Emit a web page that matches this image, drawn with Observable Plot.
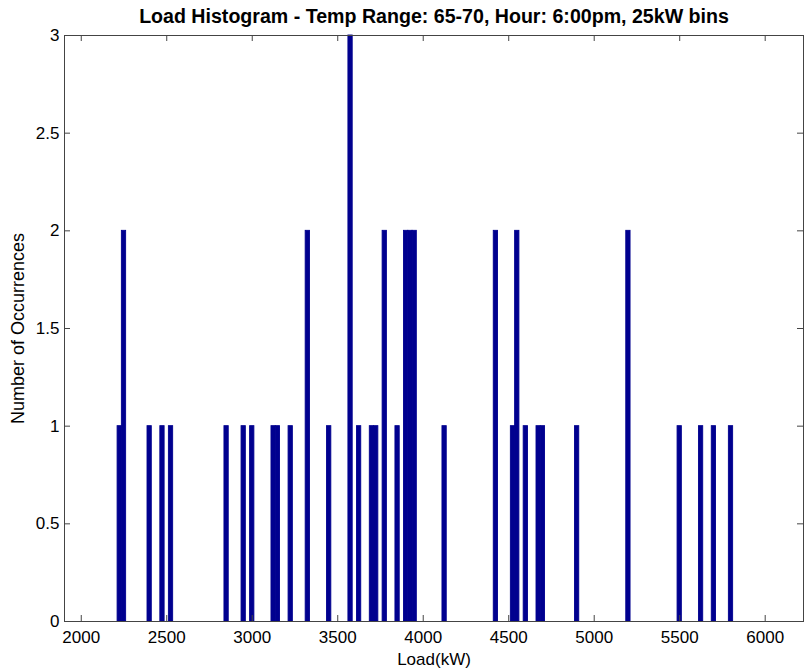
<!DOCTYPE html>
<html>
<head>
<meta charset="utf-8">
<script src="https://cdn.jsdelivr.net/npm/d3@7"></script>
<script src="https://cdn.jsdelivr.net/npm/@observablehq/plot@0.6"></script>
<style>
  html, body { margin: 0; padding: 0; background: #fff; }
  #chart svg { display: block; }
</style>
</head>
<body>
<div id="chart"></div>
<script>
const chartTitle = "Load Histogram - Temp Range: 65-70, Hour: 6:00pm, 25kW bins";
const xLabel = "Load(kW)";
const yLabel = "Number of Occurrences";
const binWidth = 25;
const loadBins = [2225, 2250, 2400, 2475, 2525, 2850, 2950, 3000, 3125, 3150,
                  3225, 3325, 3450, 3575, 3625, 3700, 3725, 3775, 3850, 3900,
                  3925, 3950, 4125, 4425, 4525, 4550, 4600, 4675, 4700, 4900,
                  5200, 5500, 5625, 5700, 5800];
const occurrences = [1, 2, 1, 1, 1, 1, 1, 1, 1, 1,
                     1, 2, 1, 3, 1, 1, 1, 2, 1, 2,
                     2, 2, 1, 2, 1, 2, 1, 1, 1, 1,
                     2, 1, 1, 1, 1];
const xTicks = [2000, 2500, 3000, 3500, 4000, 4500, 5000, 5500, 6000];
const yTicks = [0, 0.5, 1, 1.5, 2, 2.5, 3];

const data = loadBins.map((b, i) => ({bin: b, count: occurrences[i]}));

const W = 804, H = 672;
const mL = 64, mR = 1, mT = 35, mB = 51;
const fw = W - mL - mR, fh = H - mT - mB;
const tickLen = 6;
const axisColor = "#444";
const barColor = "#00008F";

const chart = Plot.plot({
  width: W,
  height: H,
  marginLeft: mL,
  marginRight: mR,
  marginTop: mT,
  marginBottom: mB,
  style: {fontFamily: "'Liberation Sans', Arial, sans-serif", fontSize: "17px", color: "#000", background: "#fff"},
  x: {domain: [1902, 6224], ticks: xTicks},
  y: {domain: [0, 3], ticks: yTicks},
  marks: [
    Plot.rectY(data, {x1: d => d.bin - binWidth / 2, x2: d => d.bin + binWidth / 2, y: "count",
                      fill: barColor, stroke: barColor, strokeWidth: 0.9}),
    Plot.frame({stroke: axisColor}),
    // inner ticks on all four sides
    Plot.tickX(xTicks, {x: d => d, insetTop: fh - tickLen, stroke: axisColor}),
    Plot.tickX(xTicks, {x: d => d, insetBottom: fh - tickLen, stroke: axisColor}),
    Plot.tickY(yTicks, {y: d => d, insetRight: fw - tickLen, stroke: axisColor}),
    Plot.tickY(yTicks, {y: d => d, insetLeft: fw - tickLen, stroke: axisColor}),
    Plot.axisX(xTicks, {tickSize: 0, tickPadding: 9, tickFormat: d => String(d), label: null, fontSize: 17, fill: "#000"}),
    Plot.axisY(yTicks, {tickSize: 0, tickPadding: 5, tickFormat: d => String(d), label: null, fontSize: 17, fill: "#000"}),
    Plot.text([chartTitle], {frameAnchor: "top", dy: -18.3, fontWeight: "bold", fontSize: 19.6, fill: "#000", lineAnchor: "middle"}),
    Plot.text([xLabel], {frameAnchor: "bottom", dy: 38.5, fontSize: 17, fill: "#000", lineAnchor: "middle"}),
    Plot.text([yLabel], {frameAnchor: "left", dx: -46.5, dy: 0, rotate: -90, fontSize: 18, fill: "#000",
                         textAnchor: "middle", lineAnchor: "middle"})
  ]
});
document.getElementById("chart").appendChild(chart);
</script>
</body>
</html>
